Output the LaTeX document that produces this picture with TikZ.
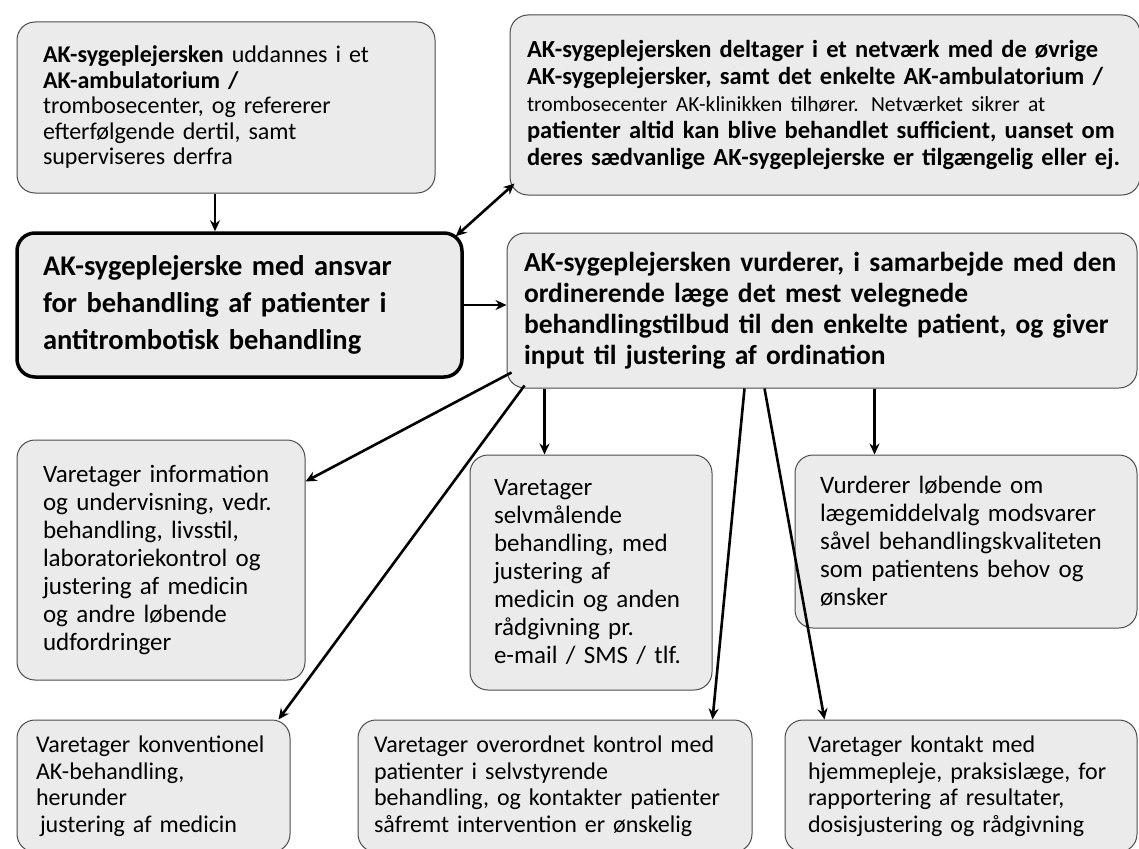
\documentclass[tikz,border=0pt]{standalone}
\usepackage{fontspec}
\setmainfont{Carlito}
\usetikzlibrary{arrows.meta}
\usetikzlibrary{positioning}

\begin{document}
\begin{tikzpicture}[x=1pt,y=-1pt,
  boks/.style={draw=black!70, line width=1pt, fill=black!8, rounded corners=18pt,
    align=left, inner xsep=0pt, font=\fontsize{25}{28}\selectfont},
  pil/.style={line width=2.6pt, -{Stealth[length=11pt,width=10pt]}},
  dpil/.style={line width=2.6pt, {Stealth[length=11pt,width=10pt]}-{Stealth[length=11pt,width=10pt]}}]
\useasboundingbox (0,0) rectangle (1139,848);

 \node[boks, minimum width=418pt, minimum height=171pt, text width=366pt,
   font=\fontsize{24}{25.5}\selectfont] (udd) at (226,107.5)
   {\textbf{AK-sygeplejersken} uddannes i et\\
    \textbf{AK-ambulatorium /}\\
    trombosecenter, og refererer\\
    efterfølgende dertil, samt\\
    superviseres derfra};

 \node[boks, minimum width=630pt, minimum height=180pt, text width=596pt,
   font=\fontsize{24.5}{27}\selectfont\bfseries] (netv) at (825,105)
   {AK-sygeplejersken deltager i et netværk med de øvrige\\
    AK-sygeplejersker, samt det enkelte AK-ambulatorium /\\
    {\fontsize{21.5}{27}\selectfont\mdseries trombosecenter AK-klinikken tilhører. Netværket sikrer at}\\
    patienter altid kan blive behandlet sufficient, uanset om\\
    deres sædvanlige AK-sygeplejerske er tilgængelig eller ej.};

 \node[boks, line width=3.5pt, draw=black, minimum width=445pt, minimum height=144pt,
   text width=393pt, font=\fontsize{28.5}{37}\selectfont\bfseries] (aksyg) at (239.5,305)
   {AK-sygeplejerske med ansvar\\
    for behandling af patienter i\\
    antitrombotisk behandling};

 \node[boks, minimum width=630pt, minimum height=155pt, text width=596pt,
   font=\fontsize{27.5}{31}\selectfont\bfseries] (vurd) at (822,310.5)
   {AK-sygeplejersken vurderer, i samarbejde med den\\
    ordinerende læge det mest velegnede\\
    behandlingstilbud til den enkelte patient, og giver\\
    input til justering af ordination};

 \node[boks, minimum width=288pt, minimum height=240pt, text width=236pt] (info) at (161,560)
   {Varetager information\\
    og undervisning, vedr.\\
    behandling, livsstil,\\
    laboratoriekontrol og\\
    justering af medicin\\
    og andre løbende\\
    udfordringer};

 \node[boks, minimum width=242pt, minimum height=235pt, text width=194pt] (selv) at (591,572.5)
   {Varetager\\
    selvmålende\\
    behandling, med\\
    justering af\\
    medicin og anden\\
    rådgivning pr.\\
    e-mail / SMS / tlf.};

 \node[boks, minimum width=342pt, minimum height=173pt, text width=292pt] (laege) at (966,541.5)
   {Vurderer løbende om\\
    lægemiddelvalg modsvarer\\
    såvel behandlingskvaliteten\\
    som patientens behov og\\
    ønsker};

 \node[boks, minimum width=273pt, minimum height=132pt, text width=235pt,
   font=\fontsize{24}{26.5}\selectfont] (konv) at (153.5,786)
   {Varetager konventionel\\
    AK-behandling,\\
    herunder\\
    \hspace{4pt}justering af medicin};

 \node[boks, minimum width=394pt, minimum height=132pt, text width=362pt,
   font=\fontsize{24}{26.5}\selectfont] (overo) at (555,786)
   {Varetager overordnet kontrol med\\
    patienter i selvstyrende\\
    behandling, og kontakter patienter\\
    såfremt intervention er ønskelig};

 \node[boks, minimum width=352pt, minimum height=132pt, text width=306pt,
   font=\fontsize{24}{26.5}\selectfont] (kontakt) at (961,786)
   {Varetager kontakt med\\
    hjemmepleje, praksislæge, for\\
    rapportering af resultater,\\
    dosisjustering og rådgivning};

 \draw[pil] ([xshift=-11pt]udd.south) -- ([xshift=-11pt]udd.south |- aksyg.north);
 \draw[dpil] ([xshift=-8pt,yshift=-5pt]aksyg.north east) -- ([xshift=5pt,yshift=12pt]netv.south west);
 \draw[pil] (aksyg.east) -- (vurd.west |- aksyg.east);
 \draw[pil] ([xshift=5pt,yshift=16pt]vurd.south west) -- ([yshift=-42pt]info.north east);
 \draw[pil] ([xshift=18pt,yshift=3pt]vurd.south west) -- ([xshift=-12pt]konv.north east);
 \draw[pil] ([xshift=38pt]vurd.south west) -- ([xshift=75pt]selv.north west);
 \draw[pil] ([xshift=238pt]vurd.south west) -- ([xshift=355pt]overo.north west);
 \draw[pil] ([xshift=258pt]vurd.south west) -- ([xshift=40pt]kontakt.north west);
 \draw[pil] ([xshift=368pt]vurd.south west) -- ([xshift=80pt]laege.north west);
\end{tikzpicture}
\end{document}
